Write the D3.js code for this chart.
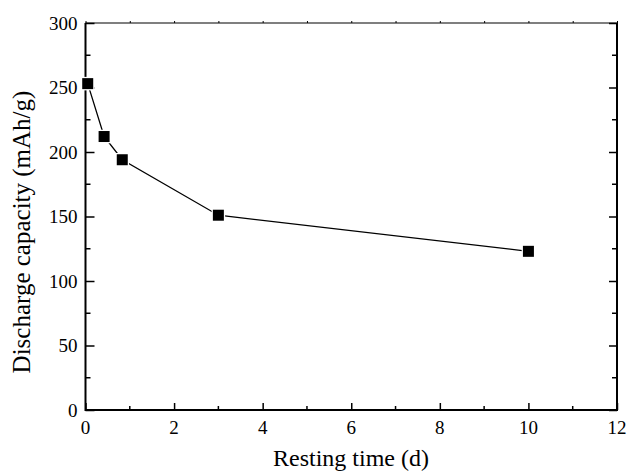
<!DOCTYPE html>
<html>
<head>
<meta charset="utf-8">
<script src="https://cdn.jsdelivr.net/npm/d3@7"></script>
<style>
  body { margin: 0; background: #fff; }
  svg text { font-family: "Liberation Serif", serif; fill: #000; }
</style>
</head>
<body>
<svg id="chart" width="627" height="472"></svg>
<script>
// data
const restingTime = [0.05, 0.42, 0.83, 3, 10];
const capacity = [253, 212, 194, 151, 123];
const xTicks = [0, 2, 4, 6, 8, 10, 12];
const yTicks = [0, 50, 100, 150, 200, 250, 300];

const width = 627, height = 472;
const margin = {l: 85.5, r: 10, t: 23, b: 62};
const innerW = width - margin.l - margin.r, innerH = height - margin.t - margin.b;

const svg = d3.select('#chart');
const xScale = d3.scaleLinear().domain([0, 12]).range([margin.l, margin.l + innerW]);
const yScale = d3.scaleLinear().domain([0, 300]).range([margin.t + innerH, margin.t]);

const x0 = xScale(0), x1 = xScale(12), y0 = yScale(0), y1 = yScale(300);
const minorX = d3.range(1, 12, 2), minorY = d3.range(25, 300, 50);

// bottom axis, ticks pointing inward
const bottomG = svg.append('g').attr('transform', `translate(0,${y0})`)
  .call(d3.axisBottom(xScale).tickValues(xTicks).tickSize(-7).tickFormat(''));
bottomG.append('g').selectAll('line').data(minorX).join('line')
  .attr('x1', d => xScale(d)).attr('x2', d => xScale(d)).attr('y1', 0).attr('y2', -4);

// left axis
const leftG = svg.append('g').attr('transform', `translate(${x0},0)`)
  .call(d3.axisLeft(yScale).tickValues(yTicks).tickSize(-9).tickFormat(''));
leftG.append('g').selectAll('line').data(minorY).join('line')
  .attr('y1', d => yScale(d)).attr('y2', d => yScale(d)).attr('x1', 0).attr('x2', 5);

// top axis, tiny ticks
const topG = svg.append('g').attr('transform', `translate(0,${y1})`)
  .call(d3.axisTop(xScale).tickValues(d3.range(0, 13)).tickSize(2).tickFormat(''));

// right axis, ticks inward
const rightG = svg.append('g').attr('transform', `translate(${x1},0)`)
  .call(d3.axisRight(yScale).tickValues(yTicks).tickSize(-8).tickFormat(''));
rightG.append('g').selectAll('line').data(minorY).join('line')
  .attr('y1', d => yScale(d)).attr('y2', d => yScale(d)).attr('x1', 0).attr('x2', -5);

[bottomG, leftG, topG, rightG].forEach(g => {
  g.selectAll('.domain').remove();
  g.selectAll('text').remove();
  g.selectAll('line').attr('stroke', '#000').attr('stroke-width', 1.5);
});
topG.selectAll('line').attr('stroke-width', 1);

// tick labels
svg.append('g').selectAll('text').data(xTicks).join('text')
  .attr('x', d => xScale(d)).attr('y', y0 + 24)
  .attr('text-anchor', 'middle').attr('font-size', 19).text(d => d);
svg.append('g').selectAll('text').data(yTicks).join('text')
  .attr('x', x0 - 8).attr('y', d => yScale(d) + 6.5)
  .attr('text-anchor', 'end').attr('font-size', 19).text(d => d);

// frame
svg.append('line').attr('x1', x0).attr('x2', x1).attr('y1', y1).attr('y2', y1).attr('stroke', '#000').attr('stroke-width', 1.2);
svg.append('line').attr('x1', x0).attr('x2', x1).attr('y1', y0).attr('y2', y0).attr('stroke', '#000').attr('stroke-width', 2);
svg.append('line').attr('x1', x0).attr('x2', x0).attr('y1', y1).attr('y2', y0 + 1).attr('stroke', '#000').attr('stroke-width', 2);
svg.append('line').attr('x1', x1).attr('x2', x1).attr('y1', y1).attr('y2', y0 + 1).attr('stroke', '#000').attr('stroke-width', 2);

// series
const pts = restingTime.map((t, i) => ({t: t, c: capacity[i]}));
const line = d3.line().x(d => xScale(d.t)).y(d => yScale(d.c));
svg.append('path').datum(pts).attr('d', line)
  .attr('fill', 'none').attr('stroke', '#000').attr('stroke-width', 1.3);
const s = 11;
svg.append('g').selectAll('rect').data(pts).join('rect')
  .attr('x', d => xScale(d.t) - s / 2).attr('y', d => yScale(d.c) - s / 2)
  .attr('width', s).attr('height', s)
  .attr('fill', '#000').attr('stroke', '#fff').attr('stroke-width', 2.5)
  .attr('paint-order', 'stroke');

// axis titles
svg.append('text').attr('x', 351).attr('y', 466)
  .attr('text-anchor', 'middle').attr('font-size', 24).text('Resting time (d)');
svg.append('text').attr('transform', `translate(30,232) rotate(-90)`)
  .attr('text-anchor', 'middle').attr('font-size', 25).text('Discharge capacity (mAh/g)');
</script>
</body>
</html>
